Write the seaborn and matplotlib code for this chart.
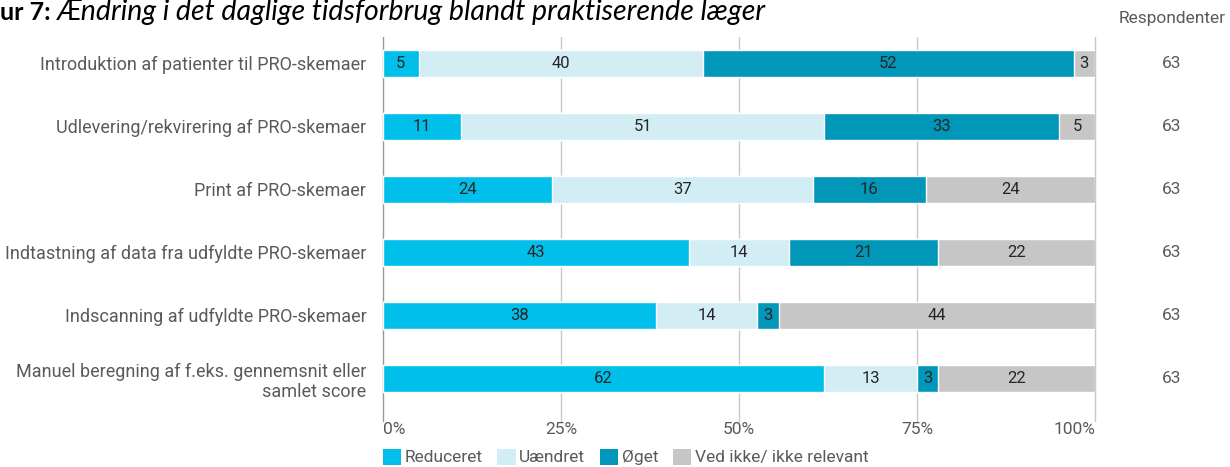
import numpy as np
import pandas as pd
import matplotlib
matplotlib.use("Agg")
import matplotlib.pyplot as plt
from matplotlib.patches import Patch
import seaborn as sns

# data
categories = [
    "Introduktion af patienter til PRO-skemaer",
    "Udlevering/rekvirering af PRO-skemaer",
    "Print af PRO-skemaer",
    "Indtastning af data fra udfyldte PRO-skemaer",
    "Indscanning af udfyldte PRO-skemaer",
    "Manuel beregning af f.eks. gennemsnit eller\nsamlet score",
]
series_names = ["Reduceret", "Uændret", "Øget", "Ved ikke/ ikke relevant"]
reduceret = [5, 11, 24, 43, 38, 62]
uaendret = [40, 51, 37, 14, 14, 13]
oeget = [52, 33, 16, 21, 3, 3]
ved_ikke = [3, 5, 24, 22, 44, 22]
respondenter = [63, 63, 63, 63, 63, 63]
x_ticks = [0, 25, 50, 75, 100]

colors = ["#00BFEA", "#D3EDF4", "#0097B9", "#C6C6C6"]
txt_grey = "#5a5a5a"

sns.set_style("white")
plt.rcParams["font.family"] = ["Roboto", "DejaVu Sans"]

vals = np.array([reduceret, uaendret, oeget, ved_ikke], dtype=float)
pct = vals / vals.sum(axis=0) * 100
cum = np.cumsum(pct, axis=0)

fig = plt.figure(figsize=(12.3, 4.67), dpi=100)
ax = fig.add_axes([383 / 1230, 1 - 410 / 467, 712 / 1230, 370 / 467])

# vertical grid behind bars
for t in x_ticks:
    ax.plot([t, t], [-0.42, 5.68], color="#c8c8c8" if t else "#999999",
            lw=1, zorder=0, clip_on=False)

# stacked bars: draw cumulative totals from the back
for i in range(3, -1, -1):
    df = pd.DataFrame({"cat": categories, "val": cum[i]})
    sns.barplot(data=df, x="val", y="cat", color=colors[i], saturation=1,
                width=0.43, ax=ax, orient="h", zorder=2)

# segment labels
for i in range(4):
    for r in range(len(categories)):
        start = cum[i, r] - pct[i, r]
        ax.text(start + pct[i, r] / 2, r, f"{int(vals[i, r])}",
                ha="center", va="center", fontsize=12, color="#262626", zorder=3)

ax.set_xlim(0, 100)
ax.set_ylim(5.5, -0.37)
ax.set_xticks(x_ticks)
ax.set_xticklabels([f"{t}%" for t in x_ticks], fontsize=12.5, color=txt_grey)
# first label left aligned, last right aligned, like the source
xt = ax.get_xticklabels()
xt[0].set_ha("left")
xt[-1].set_ha("right")
ax.tick_params(axis="x", length=0, pad=9)
ax.tick_params(axis="y", length=0, pad=12)
ax.set_yticks(range(len(categories)))
ax.set_yticklabels(categories, fontsize=13, color=txt_grey, ha="right",
                   multialignment="right")
ax.set_xlabel("")
ax.set_ylabel("")
for s in ax.spines.values():
    s.set_visible(False)

# respondent column
fig.text(1172 / 1230, 1 - 18 / 467, "Respondenter", ha="center", va="center",
         fontsize=12.5, color=txt_grey)
for r, n in enumerate(respondenter):
    ax.text(1.108, r, str(n), transform=ax.get_yaxis_transform(),
            ha="center", va="center", fontsize=12.5, color=txt_grey)

# legend
handles = [Patch(facecolor=c, edgecolor="none") for c in colors]
fig.legend(handles, series_names, loc="center left",
           bbox_to_anchor=(383 / 1230, 1 - 457 / 467), ncol=4, frameon=False,
           fontsize=12.5, handlelength=1.05, handleheight=1.05, handletextpad=0.2,
           columnspacing=0.85, labelcolor=txt_grey, borderpad=0, borderaxespad=0)

# title (left part cut off in the source)
t_bold = fig.text(0.0, 1 - 20 / 467, "ur 7:", ha="left", va="baseline",
                  fontsize=18, fontweight="bold", family="Lato", color="black")
fig.canvas.draw()
bb = t_bold.get_window_extent()
fig.text((bb.x1 + 6) / 1230, 1 - 20 / 467,
         "Ændring i det daglige tidsforbrug blandt praktiserende læger",
         ha="left", va="baseline", fontsize=20.5, style="italic", family="Lato",
         color="black")

fig.savefig("out.png", dpi=100)
